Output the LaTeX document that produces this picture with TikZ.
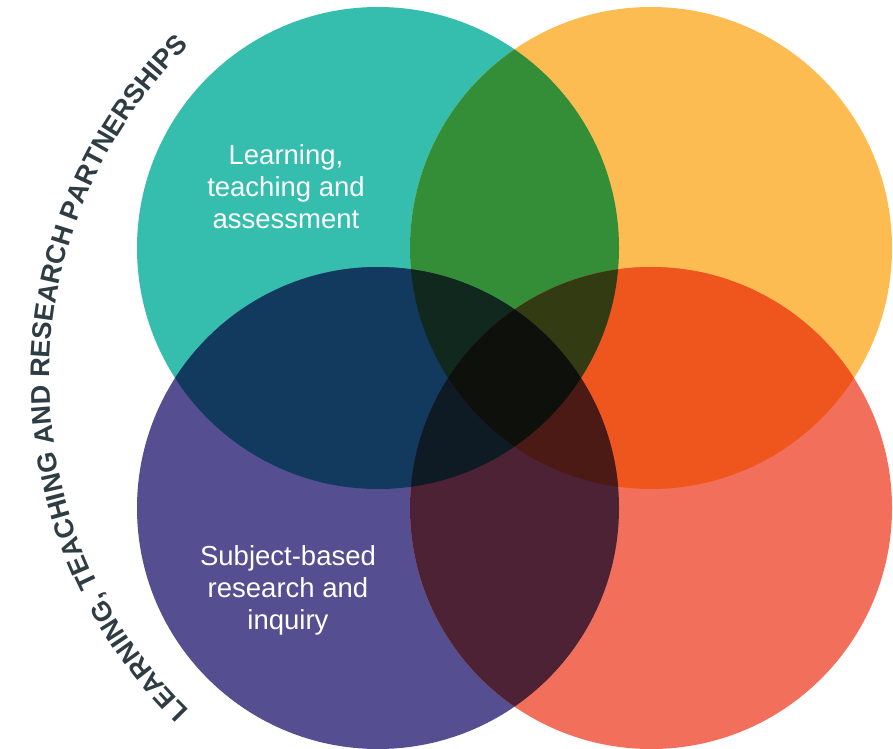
\documentclass[tikz,border=0pt]{standalone}
\usepackage{fontspec}
\setmainfont{Liberation Sans}
\usetikzlibrary{decorations.text}
\definecolor{cteal}{HTML}{35BDAD}
\definecolor{corange}{HTML}{FCBC52}
\definecolor{cpurple}{HTML}{554F91}
\definecolor{ccoral}{HTML}{F2705B}
\definecolor{cTO}{HTML}{338E37}
\definecolor{cTP}{HTML}{123A5E}
\definecolor{cOR}{HTML}{EE561E}
\definecolor{cPR}{HTML}{4D2234}
\definecolor{cTOP}{HTML}{10281E}
\definecolor{cTOR}{HTML}{333B13}
\definecolor{cTPR}{HTML}{0F1B24}
\definecolor{cOPR}{HTML}{4C1A14}
\definecolor{cALL}{HTML}{0E110B}
\definecolor{ctext}{HTML}{2E3C44}
\tikzset{
  circlabel/.style={text=white, align=center, font=\fontsize{27.5}{32}\selectfont}
}
\newcommand{\rr}{241}
\begin{document}
\begin{tikzpicture}[x=1pt,y=1pt]
\useasboundingbox (0,0) rectangle (893,748);
\coordinate (T) at (378,500);
\coordinate (O) at (651,500);
\coordinate (P) at (378,240);
\coordinate (R) at (651,240);
\coordinate (C) at (514.5,370);
% base circles
\fill[cteal] (T) circle[radius=\rr];
\fill[corange] (O) circle[radius=\rr];
\fill[cpurple] (P) circle[radius=\rr];
\fill[ccoral] (R) circle[radius=\rr];
% pairs
\begin{scope}\clip (T) circle[radius=\rr]; \fill[cTO] (O) circle[radius=\rr];\end{scope}
\begin{scope}\clip (T) circle[radius=\rr]; \fill[cTP] (P) circle[radius=\rr];\end{scope}
\begin{scope}\clip (O) circle[radius=\rr]; \fill[cOR] (R) circle[radius=\rr];\end{scope}
\begin{scope}\clip (P) circle[radius=\rr]; \fill[cPR] (R) circle[radius=\rr];\end{scope}
% triples
\begin{scope}\clip (T) circle[radius=\rr]; \clip (O) circle[radius=\rr]; \fill[cTOP] (P) circle[radius=\rr];\end{scope}
\begin{scope}\clip (T) circle[radius=\rr]; \clip (O) circle[radius=\rr]; \fill[cTOR] (R) circle[radius=\rr];\end{scope}
\begin{scope}\clip (T) circle[radius=\rr]; \clip (P) circle[radius=\rr]; \fill[cTPR] (R) circle[radius=\rr];\end{scope}
\begin{scope}\clip (O) circle[radius=\rr]; \clip (P) circle[radius=\rr]; \fill[cOPR] (R) circle[radius=\rr];\end{scope}
% all four
\begin{scope}\clip (T) circle[radius=\rr]; \clip (O) circle[radius=\rr]; \clip (P) circle[radius=\rr]; \fill[cALL] (R) circle[radius=\rr];\end{scope}
% labels
\node[circlabel] (lta) at (286,561) {Learning,\\teaching and\\assessment};
\node[circlabel] (sbr) at (288,158) {Subject-based\\research and\\inquiry};
% curved text
\path[decorate, decoration={text along path, text align=center, text color=ctext,
  text={|\fontsize{27}{27}\selectfont\bfseries|LEARNING, TEACHING AND RESEARCH PARTNERSHIPS}}]
  (C) ++(230:465) arc[start angle=230, end angle=130, radius=465];
\end{tikzpicture}
\end{document}
